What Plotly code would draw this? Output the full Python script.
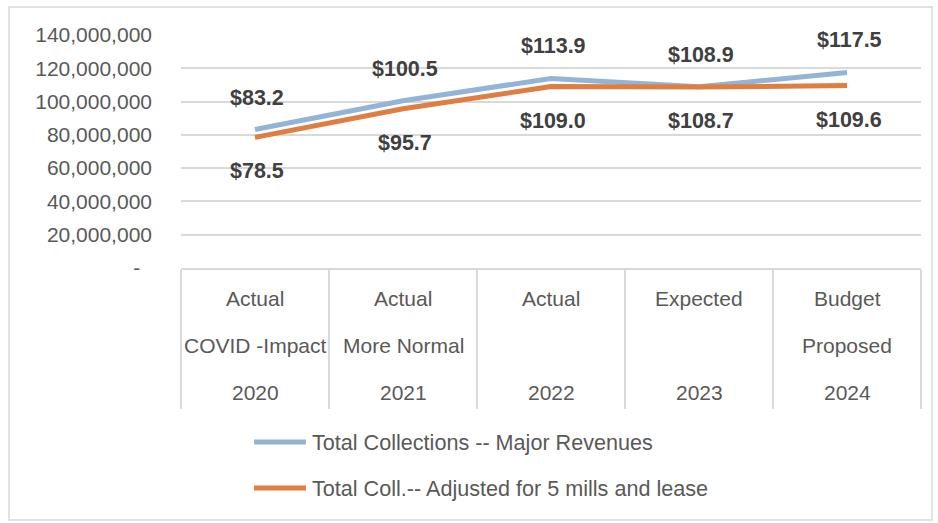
import plotly.graph_objects as go

# ---- data ----
row1 = ["Actual", "Actual", "Actual", "Expected", "Budget"]
row2 = ["COVID -Impact", "More Normal", "", "", "Proposed"]
years = ["2020", "2021", "2022", "2023", "2024"]
total_collections = [83.2e6, 100.5e6, 113.9e6, 108.9e6, 117.5e6]
total_adjusted = [78.5e6, 95.7e6, 109.0e6, 108.7e6, 109.6e6]
series_names = ["Total Collections -- Major Revenues",
                "Total Coll.-- Adjusted for 5 mills and lease"]
colors = ["#93B4D6", "#E07D40"]
ytick_vals = [0, 20e6, 40e6, 60e6, 80e6, 100e6, 120e6, 140e6]
ytick_text = ["-\u00a0\u00a0"] + [f"{v:,.0f}" for v in ytick_vals[1:]]

W, H = 938, 523
L, R, T, B = 181, 17, 35, 255
pw, ph = W - L - R, H - T - B

def px_x(p):
    return (p - L) / pw

def px_y(p):
    return (H - B - p) / ph

xs = list(range(len(years)))
fig = go.Figure()
for vals, name, col in zip([total_collections, total_adjusted], series_names, colors):
    fig.add_trace(go.Scatter(x=xs, y=vals, mode="lines", name=name,
                             line=dict(color=col, width=5), showlegend=False))

label_font = dict(family="Liberation Sans, Arial, sans-serif", size=21.5, color="#404040")
for i, (a, b) in enumerate(zip(total_collections, total_adjusted)):
    fig.add_annotation(x=i, y=a, text=f"<b>${a/1e6:.1f}</b>", showarrow=False,
                       xshift=2, yshift=32, font=label_font)
    fig.add_annotation(x=i, y=b, text=f"<b>${b/1e6:.1f}</b>", showarrow=False,
                       xshift=2, yshift=-34, font=label_font)

cat_font = dict(family="Liberation Sans, Arial, sans-serif", size=21, color="#595959")
for row, py in zip([row1, row2, years], [298, 345, 392]):
    for i, t in enumerate(row):
        if t:
            fig.add_annotation(x=i, xref="x", y=px_y(py), yref="paper", text=t,
                               showarrow=False, yanchor="middle", font=cat_font)

# legend (manual)
leg_font = dict(family="Liberation Sans, Arial, sans-serif", size=21.6, color="#595959")
for name, col, py in zip(series_names, colors, [442, 488]):
    fig.add_shape(type="line", xref="paper", yref="paper",
                  x0=px_x(254), x1=px_x(306), y0=px_y(py), y1=px_y(py),
                  line=dict(color=col, width=5))
    fig.add_annotation(xref="paper", yref="paper", x=px_x(310), y=px_y(py),
                       xanchor="left", yanchor="middle", text=name,
                       showarrow=False, font=leg_font)

# outer border
fig.add_shape(type="rect", xref="paper", yref="paper",
              x0=px_x(9), x1=px_x(932), y0=px_y(520), y1=px_y(7),
              line=dict(color="#D9D9D9", width=1.5), layer="below")

fig.update_layout(
    width=W, height=H,
    margin=dict(l=L, r=R, t=T, b=B),
    plot_bgcolor="white", paper_bgcolor="white",
    font=dict(family="Liberation Sans, Arial, sans-serif", size=21, color="#595959"),
    showlegend=False,
)
fig.update_xaxes(range=[-0.5, 4.5], tickmode="array",
                 tickvals=[i - 0.5 for i in range(len(years) + 1)],
                 ticks="outside", ticklen=139, tickwidth=1.5, tickcolor="#D9D9D9",
                 showticklabels=False, showgrid=False, zeroline=False,
                 showline=True, linecolor="#D9D9D9", linewidth=1.5)
fig.update_yaxes(range=[0, 140e6], tickmode="array", tickvals=ytick_vals,
                 ticktext=ytick_text, showgrid=True, gridcolor="#D9D9D9",
                 gridwidth=1.5, zeroline=False, ticks="", ticklabelstandoff=28,
                 tickfont=dict(size=21, color="#595959"))

fig.write_html("out.html", config={"displayModeBar": False},
               post_script="document.body.style.margin='0';document.body.style.padding='0';")
